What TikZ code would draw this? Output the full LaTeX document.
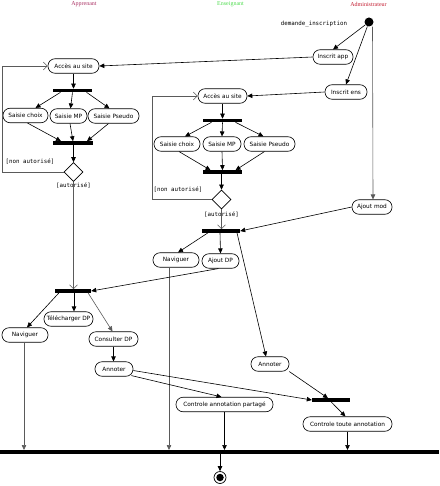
\documentclass[tikz,border=0pt]{standalone}
\usepackage{fontspec}
\setmainfont{DejaVu Sans}
\newfontfamily\hdrfont{Liberation Serif}
\newfontfamily\monofont{DejaVu Sans Mono}
\usetikzlibrary{arrows.meta,shapes.geometric,calc}
\definecolor{appc}{RGB}{170,50,100}
\definecolor{ensc}{RGB}{80,220,80}
\definecolor{admc}{RGB}{195,30,50}
\definecolor{lgray}{RGB}{90,90,90}
\tikzset{
  act/.style={draw=black, rounded corners=7pt, minimum height=14.5pt, inner sep=1pt,
    font=\fontsize{5.8}{6.5}\selectfont, fill=white, line width=0.6pt},
  barnode/.style={fill=black, draw=none, minimum height=3.2pt, inner sep=0pt},
  hdr/.style={font=\hdrfont\fontsize{6}{7}\selectfont, inner sep=0pt},
  guard/.style={font=\monofont\fontsize{5.8}{6.5}\selectfont, inner sep=0pt},
  dec/.style={diamond, draw=black, fill=white, minimum width=19pt, minimum height=19pt, inner sep=0pt, line width=0.6pt},
  arr/.style={-{Triangle[length=5pt,width=4.5pt]}, line width=0.6pt, black},
  garr/.style={-{Triangle[length=5pt,width=4.5pt]}, line width=0.6pt, lgray},
  oarr/.style={-{Straight Barb[length=4pt,width=8pt]}, line width=0.6pt, lgray},
}
\begin{document}
\begin{tikzpicture}[x=1pt,y=-1pt]
\useasboundingbox (0,0) rectangle (439,486);
% headers
\node[hdr, text=appc] (happ) at (84,4) {Apprenant};
\node[hdr, text=ensc] (hens) at (230.5,4) {Enseignant};
\node[hdr, text=admc] (hadm) at (368.5,4) {Administrateur};
% start
\node[circle, fill=black, minimum size=9pt, inner sep=0pt] (start) at (369,22) {};
\node[guard] (dlab) at (314,23.5) {demande\_inscription};
\node[act, minimum width=40pt] (iapp) at (333,57) {Inscrit app};
\node[act, minimum width=42pt] (iens) at (346,92) {Inscrit ens};
\node[act, minimum width=40pt] (amod) at (372,207) {Ajout mod};
% Apprenant block
\node[act, minimum width=51pt] (acc1) at (73.5,66) {Accès au site};
\node[barnode, minimum width=39pt] (bar1) at (72.5,90.5) {};
\node[act, minimum width=45pt] (sc1) at (25.5,115.5) {Saisie choix};
\node[act, minimum width=37pt] (smp1) at (68.5,116) {Saisie MP};
\node[act, minimum width=51pt] (sps1) at (113.5,116) {Saisie Pseudo};
\node[barnode, minimum width=40pt] (bar2) at (73,143) {};
\node[dec] (d1) at (73.5,172) {};
\node[guard] (na1) at (30,162) {[non autorisé]};
\node[guard] (au1) at (73.5,185.5) {[autorisé]};
% Enseignant block
\node[act, minimum width=49pt] (acc2) at (222.5,96) {Accès au site};
\node[barnode, minimum width=39pt] (bar6) at (222.5,120.5) {};
\node[act, minimum width=46pt] (sc2) at (177,144) {Saisie choix};
\node[act, minimum width=38pt] (smp2) at (222,144) {Saisie MP};
\node[act, minimum width=51pt] (sps2) at (269.5,144) {Saisie Pseudo};
\node[barnode, minimum width=39pt] (bar7) at (222.5,172) {};
\node[dec] (d2) at (221.5,199.5) {};
\node[guard] (na2) at (178,189.5) {[non autorisé]};
\node[guard] (au2) at (221.5,215) {[autorisé]};
\node[barnode, minimum width=38pt] (bar3) at (221,231) {};
\node[act, minimum width=46pt] (nav2) at (176,260) {Naviguer};
\node[act, minimum width=37pt] (adp) at (220.5,261) {Ajout DP};
\node[act, minimum width=38pt] (ann2) at (270,364) {Annoter};
% Apprenant lower
\node[barnode, minimum width=36pt] (bar4) at (73,291) {};
\node[act, minimum width=46pt] (nav1) at (25,335) {Naviguer};
\node[act, minimum width=49pt] (tel) at (68.5,319) {Télécharger DP};
\node[act, minimum width=49pt] (cons) at (113.5,339) {Consulter DP};
\node[act, minimum width=38pt] (ann1) at (114,369) {Annoter};
\node[act, minimum width=97pt] (ctrlp) at (224.5,404.5) {Controle annotation partagé};
\node[barnode, minimum width=38pt] (bar5) at (331,400) {};
\node[act, minimum width=89pt] (ctrlt) at (347.5,424) {Controle toute annotation};
% final bar and end
\node[fill=black, minimum width=439pt, minimum height=3.6pt, inner sep=0pt] (fbar) at (219.5,452) {};
\node[circle, draw=black, line width=0.7pt, minimum size=12pt, inner sep=0pt] (endn) at (220,477.5) {};
\node[circle, fill=black, minimum size=7.5pt, inner sep=0pt] (endc) at (220,477.5) {};

% connectors from start
\draw[arr] (start) -- (iapp.north);
\draw[arr] (start) -- (iens.north);
\draw[garr] ([xshift=3.5pt]start.south) -- ([xshift=1pt]amod.north);
\draw[arr] (iapp.west) -- (acc1.east);
\draw[arr] (iens.west) -- (acc2.east);
\draw[arr] (amod.west) -- (bar3.east);

% Apprenant block connectors
\draw[arr] (acc1.south) -- (acc1.south |- bar1.north);
\draw[arr] ($(bar1.south)+(-12,0)$) -- ([xshift=10pt]sc1.north);
\draw[arr] ($(bar1.south)+(0,0)$) -- ([xshift=2pt]smp1.north);
\draw[arr] ($(bar1.south)+(14,0)$) -- ([xshift=-4pt]sps1.north);
\draw[arr] ([xshift=2pt]sc1.south) -- ($(bar2.north)+(-12,0)$);
\draw[arr] ([xshift=1.5pt]smp1.south) -- ($(bar2.north)+(0,0)$);
\draw[arr] ([xshift=-5pt]sps1.south) -- ($(bar2.north)+(14,0)$);
\draw[arr] (bar2.south -| d1.north) -- (d1.north);
\draw[oarr] (d1.west) -- ++(-61,0) |- (acc1.west);
\draw[oarr] (d1.south) -- (d1.south |- bar4.north);

% Enseignant block connectors
\draw[arr] (acc2.south) -- (acc2.south |- bar6.north);
\draw[arr] ($(bar6.south)+(-11,0)$) -- ([xshift=8pt]sc2.north);
\draw[arr] ($(bar6.south)+(0,0)$) -- (smp2.north);
\draw[arr] ($(bar6.south)+(13,0)$) -- ([xshift=-6pt]sps2.north);
\draw[arr] ([xshift=2pt]sc2.south) -- ($(bar7.north)+(-12,0)$);
\draw[arr] (smp2.south) -- ($(bar7.north)+(0,0)$);
\draw[arr] ([xshift=-5pt]sps2.south) -- ($(bar7.north)+(13,0)$);
\draw[arr] (bar7.south -| d2.north) -- (d2.north);
\draw[oarr] (d2.west) -- ++(-59,0) |- (acc2.west);
\draw[oarr] (d2.south) -- (d2.south |- bar3.north);
\draw[arr] ($(bar3.south)+(-13,0)$) -- ([xshift=2pt]nav2.north);
\draw[arr] ($(bar3.south)+(-1,0)$) -- (adp.north);
\draw[arr] ($(bar3.south)+(16,0)$) -- ([xshift=-4pt]ann2.north);
\draw[garr] ([xshift=-7pt]nav2.south) -- ([xshift=-7pt]nav2.south |- fbar.north);
\draw[arr] ([xshift=-2pt]adp.south) -- (bar4.east);

% Apprenant lower connectors
\draw[arr] ($(bar4.south)+(-14,0)$) -- ([xshift=2pt]nav1.north);
\draw[arr] ($(bar4.south)+(1,0)$) -- ([xshift=5.5pt]tel.north);
\draw[garr] ($(bar4.south)+(15,0)$) -- ([xshift=-1pt]cons.north);
\draw[arr] (cons.south) -- (cons.south |- ann1.north);
\draw[arr] ([yshift=-1.5pt]ann1.east) -- (bar5.west);
\draw[arr] ([xshift=-2pt,yshift=1pt]ann1.south east) -- ([xshift=-3pt]ctrlp.north);
\draw[arr] (ann2.south east) -- ($(bar5.north)+(-3,0)$);
\draw[arr] ($(bar5.south)+(0,0)$) -- ([xshift=-2pt]ctrlt.north);
\draw[garr] ([xshift=-1pt]nav1.south) -- ([xshift=-1pt]nav1.south |- fbar.north);
\draw[arr] (ctrlp.south) -- (ctrlp.south |- fbar.north);
\draw[arr] (ctrlt.south) -- (ctrlt.south |- fbar.north);
\draw[arr] (fbar.south -| endn.north) -- (endn.north);
\end{tikzpicture}
\end{document}
